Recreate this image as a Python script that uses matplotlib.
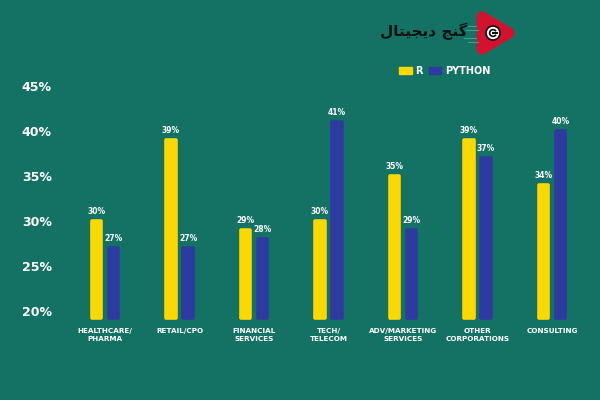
import matplotlib
matplotlib.use('Agg')
import matplotlib.pyplot as plt
from matplotlib.patches import Patch, Polygon, Circle, Wedge
import numpy as np

# ---------- data ----------
categories = ['HEALTHCARE/\nPHARMA', 'RETAIL/CPO', 'FINANCIAL\nSERVICES', 'TECH/\nTELECOM',
              'ADV/MARKETING\nSERVICES', 'OTHER\nCORPORATIONS', 'CONSULTING']
r_vals = [30, 39, 29, 30, 35, 39, 34]
py_vals = [27, 27, 28, 41, 29, 37, 40]
yticks = [20, 25, 30, 35, 40, 45]

# ---------- colours ----------
BG = '#147264'
YEL = '#fbd800'
BLU = '#2d3a9f'
WHITE = '#ffffff'
RED = '#d2122e'

plt.rcParams['font.family'] = ['DejaVu Sans']

fig = plt.figure(figsize=(6, 4), dpi=100, facecolor=BG)
ax = fig.add_axes([0.1, 0.2, 0.8833, 0.6])
ax.set_facecolor(BG)

BASE = 19.25
x = np.arange(len(categories))
off = 0.115
w = 0.125

ax.bar(x - off, np.array(r_vals) - BASE, bottom=BASE, width=w,
       color=YEL, edgecolor=YEL, linewidth=2.6, joinstyle='round', label='R')
ax.bar(x + off, np.array(py_vals) - BASE, bottom=BASE, width=w,
       color=BLU, edgecolor=BLU, linewidth=2.6, joinstyle='round', label='PYTHON')

for xs, vals in [(x - off, r_vals), (x + off, py_vals)]:
    for xi, v in zip(xs, vals):
        ax.text(xi, v + 0.6, f'{v}%', ha='center', va='bottom', fontsize=5.5,
                weight='bold', color=WHITE)

ax.set_xlim(-0.604, 6.51)
ax.set_ylim(19.0, 45.67)
ax.set_yticks(yticks)
ax.set_yticklabels([f'{v}%' for v in yticks], fontsize=9, weight='bold', color=WHITE)
ax.set_xticks(x)
ax.set_xticklabels(categories, fontsize=5.2, weight='bold', color=WHITE, linespacing=1.25)
ax.tick_params(axis='both', length=0)
ax.tick_params(axis='y', pad=6)
ax.tick_params(axis='x', pad=6)
for s in ax.spines.values():
    s.set_visible(False)

# ---------- legend ----------
handles = [Patch(facecolor=YEL, edgecolor=YEL, label='R'),
           Patch(facecolor=BLU, edgecolor=BLU, label='PYTHON')]
leg = fig.legend(handles=handles, loc='center left', bbox_to_anchor=(394 / 600, 1 - 71 / 400),
                 ncol=2, frameon=False, handlelength=1.3, handleheight=0.8,
                 handletextpad=0.4, columnspacing=0.6, borderpad=0,
                 prop={'weight': 'bold', 'size': 7})
for t in leg.get_texts():
    t.set_color(WHITE)

# ---------- logo ----------
lax = fig.add_axes([0, 0, 1, 1])
lax.set_xlim(0, 600)
lax.set_ylim(400, 0)
lax.axis('off')
lax.patch.set_alpha(0)

logo_txt = '\uFEDD\uFE8E\uFE98\uFBFF\uFEA0\uFBFE\uFEA9 \uFE9E\uFEE8\uFB94'
lax.text(468, 31, logo_txt, ha='right', va='center', fontsize=11, weight='bold',
         color='#111111', family=['DejaVu Sans'])
for y0, x0, x1 in [(26, 462, 476), (30, 466, 478), (38, 464, 476), (42, 468, 478)]:
    lax.plot([x0, x1], [y0, y0], color='#3aa090', lw=0.8)

tri = Polygon([[482, 17], [482, 49], [509, 33]], closed=True, facecolor=RED,
              edgecolor=RED, linewidth=8, joinstyle='round')
lax.add_patch(tri)
lax.add_patch(Circle((493, 33), 7, facecolor=WHITE, edgecolor='#111111', lw=1.2))
lax.add_patch(Wedge((493, 33), 4.2, 30, 330, width=1.7, facecolor='#111111'))
lax.plot([493, 497.2], [33, 33], color='#111111', lw=1.5)

fig.savefig('out.png', dpi=100, facecolor=BG)
